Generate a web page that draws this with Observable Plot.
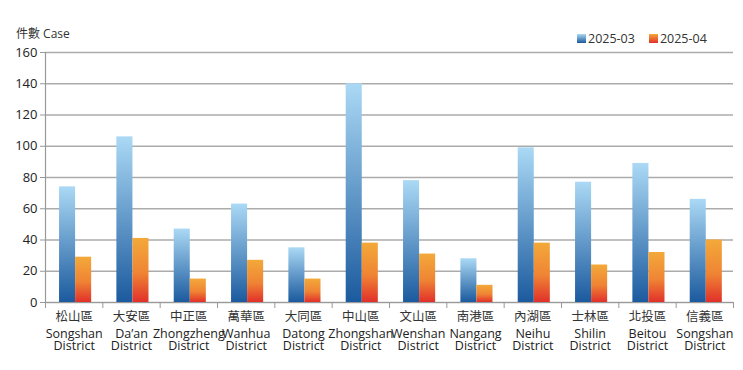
<!DOCTYPE html>
<html><head><meta charset="utf-8">
<script src="https://cdn.jsdelivr.net/npm/d3@7"></script>
<script src="https://cdn.jsdelivr.net/npm/@observablehq/plot@0.6"></script>
<style>
body{margin:0;background:#fff;font-family:"Open Sans","Noto Sans CJK TC",sans-serif;}
#wrap{position:relative;width:743px;height:370px;}
#title{position:absolute;left:16px;top:24px;font-size:12px;color:#333;}
#legend{position:absolute;left:577px;top:30px;font-size:12.5px;color:#333;display:flex;align-items:center;}
.sw{display:inline-block;width:9px;height:9px;margin-right:2px;}
.item{display:flex;align-items:center;margin-right:14px;}
</style></head><body>
<div id="wrap"><div id="title">件數 Case</div><div id="legend"></div></div>
<script>
const districtsZh = ["松山區","大安區","中正區","萬華區","大同區","中山區","文山區","南港區","內湖區","士林區","北投區","信義區"];
const districtsEn = ["Songshan","Da’an","Zhongzheng","Wanhua","Datong","Zhongshan","Wenshan","Nangang","Neihu","Shilin","Beitou","Songshan"];
const districtWord = "District";
const march = [74,106,47,63,35,140,78,28,99,77,89,66];
const april = [29,41,15,27,15,38,31,11,38,24,32,40];
const series = ["2025-03","2025-04"];
const yTicks = [0,20,40,60,80,100,120,140,160];

const table = districtsZh.map((zh,i)=>({i, zh, en: districtsEn[i], march: march[i], april: april[i]}));
const centers = d3.range(districtsZh.length).map(i => i + 0.5);

const grads = {
  gBlue: [["0%","#abd9f5"],["100%","#1b5a9e"]],
  gOrange: [["0%","#f3a93a"],["55%","#ef8434"],["100%","#e1302a"]]
};
function defsMark() {
  const g = d3.create("svg:g");
  const defs = g.append("defs");
  for (const [id, stops] of Object.entries(grads)) {
    const lg = defs.append("linearGradient").attr("id", id).attr("x1",0).attr("y1",0).attr("x2",0).attr("y2",1);
    for (const [o,c] of stops) lg.append("stop").attr("offset", o).attr("stop-color", c);
  }
  return g.node();
}

const plot = Plot.plot({
  width: 743, height: 370,
  marginTop: 52, marginBottom: 68, marginLeft: 45, marginRight: 10,
  style: {fontFamily: '"Open Sans","Noto Sans CJK TC",sans-serif', color: "#222", background: "transparent"},
  x: {domain: [0, 12]},
  y: {domain: [0, 160]},
  marks: [
    defsMark,
    Plot.gridY(yTicks, {stroke: "#ababab", strokeOpacity: 1, strokeWidth: 1.3}),
    Plot.rectY(table, {x1: d => d.i + 0.245, x2: d => d.i + 0.525, y: "march", fill: "url(#gBlue)"}),
    Plot.rectY(table, {x1: d => d.i + 0.525, x2: d => d.i + 0.805, y: "april", fill: "url(#gOrange)"}),
    Plot.ruleX([0], {y1: 0, y2: 160, stroke: "#999", strokeWidth: 1.2}),
    Plot.ruleY([0], {stroke: "#999", strokeWidth: 1.2}),
    Plot.axisY({ticks: yTicks, tickSize: 5, tickPadding: 3, fontSize: 13, stroke: "#999", fill: "#222"}),
    Plot.axisX({ticks: d3.range(13), tickSize: 6, tickFormat: () => "", stroke: "#999"}),
    Plot.axisX({ticks: centers, tickSize: 0, tickPadding: 10, tickFormat: v => districtsZh[Math.floor(v)], fontSize: 12.5, fill: "#333"}),
    Plot.axisX({ticks: centers, tickSize: 0, tickPadding: 26.5, tickFormat: v => districtsEn[Math.floor(v)] + "\n" + districtWord, fontSize: 12.5, lineHeight: 0.98, fill: "#222"})
  ]
});
document.getElementById("wrap").appendChild(plot);

const legend = document.getElementById("legend");
const legendGrad = ["linear-gradient(#abd9f5,#1b5a9e)","linear-gradient(#f3a93a,#e1302a)"];
series.forEach((s,k) => {
  const it = document.createElement("span"); it.className = "item";
  const sw = document.createElement("span"); sw.className = "sw"; sw.style.background = legendGrad[k];
  it.appendChild(sw); it.appendChild(document.createTextNode(s));
  legend.appendChild(it);
});
</script>
</body></html>
